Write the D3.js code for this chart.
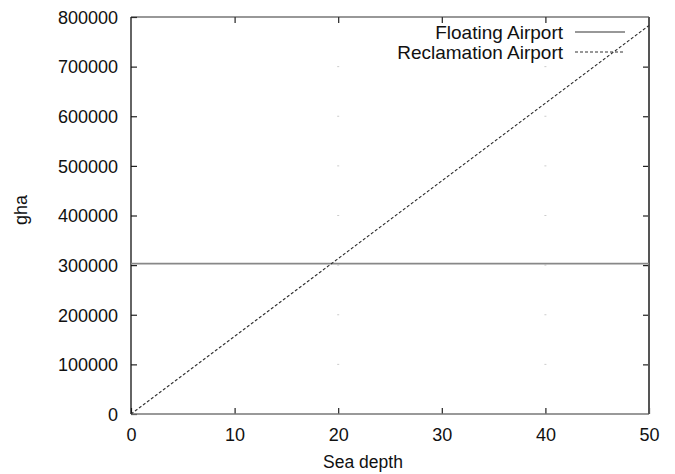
<!DOCTYPE html>
<html>
<head>
<meta charset="utf-8">
<script src="https://cdn.jsdelivr.net/npm/d3@7"></script>
<style>
  body { margin: 0; background: #fff; }
  svg { display: block; font-family: "Liberation Sans", Arial, sans-serif; }
</style>
</head>
<body>
<svg id="chart" width="675" height="474"></svg>
<script>
  // values
  let depths = [0, 10, 20, 30, 40, 50];
  let floating = [303000, 303000, 303000, 303000, 303000, 303000];
  let reclamation = [0, 156600, 313200, 469800, 626400, 783000];
  let xTicks = [0, 10, 20, 30, 40, 50];
  let yTicks = [0, 100000, 200000, 300000, 400000, 500000, 600000, 700000, 800000];
  let seriesNames = ['Floating Airport', 'Reclamation Airport'];

(function() {
  let svg = d3.select('#chart');
  let plotLeft = 131, plotRight = 649, plotTop = 17, plotBottom = 414;

  let x = d3.scaleLinear().domain([0, 50]).range([plotLeft, plotRight]);
  let y = d3.scaleLinear().domain([0, 800000]).range([plotBottom, plotTop]);

  //
  // faint grid remnants at x = 20 and 40
  //
  let dots = [];
  [20, 40].forEach((d) => {
    yTicks.slice(1, -1).forEach((v) => dots.push({ d, v }));
  });
  svg.append('g').selectAll('rect').data(dots).enter().append('rect')
    .attr('x', (p) => x(p.d) - 1)
    .attr('y', (p) => y(p.v) - 0.5)
    .attr('width', 2)
    .attr('height', 1)
    .attr('fill', '#ccc');

  //
  // axes (inward ticks, mirrored)
  //
  let tickLen = 6;
  let axisBottom = d3.axisBottom(x).tickValues(xTicks).tickFormat(d3.format('d'))
    .tickSizeInner(-tickLen).tickSizeOuter(0).tickPadding(14);
  let axisLeft = d3.axisLeft(y).tickValues(yTicks).tickFormat(d3.format('d'))
    .tickSizeInner(-tickLen).tickSizeOuter(0).tickPadding(13);
  let axisTop = d3.axisTop(x).tickValues(xTicks.slice(1, -1)).tickSizeInner(-tickLen).tickSizeOuter(0).tickFormat('');
  let axisRight = d3.axisRight(y).tickValues(yTicks.slice(1, -1)).tickSizeInner(-tickLen).tickSizeOuter(0).tickFormat('');

  let gx = svg.append('g').attr('transform', `translate(0,${plotBottom})`).call(axisBottom);
  let gy = svg.append('g').attr('transform', `translate(${plotLeft},0)`).call(axisLeft);
  svg.append('g').attr('transform', `translate(0,${plotTop})`).call(axisTop);
  svg.append('g').attr('transform', `translate(${plotRight},0)`).call(axisRight);

  svg.selectAll('.domain').remove();
  svg.selectAll('.tick line').attr('stroke', '#222').attr('stroke-width', 1.2);
  svg.selectAll('.tick text')
    .attr('fill', '#111')
    .attr('font-size', 18)
    .attr('font-family', '"Liberation Sans", Arial, sans-serif');
  gx.selectAll('.tick text').attr('dy', '0.71em');
  gy.selectAll('.tick text').attr('dy', '0.35em');

  // frame
  svg.append('line').attr('x1', plotLeft).attr('x2', plotLeft).attr('y1', plotTop).attr('y2', plotBottom)
    .attr('stroke', '#111').attr('stroke-width', 1.3);
  svg.append('line').attr('x1', plotLeft).attr('x2', plotRight).attr('y1', plotTop).attr('y2', plotTop)
    .attr('stroke', '#333').attr('stroke-width', 1.2);
  svg.append('line').attr('x1', plotLeft).attr('x2', plotRight).attr('y1', plotBottom).attr('y2', plotBottom)
    .attr('stroke', '#777').attr('stroke-width', 1.5);
  svg.append('line').attr('x1', plotRight).attr('x2', plotRight).attr('y1', plotTop).attr('y2', plotBottom)
    .attr('stroke', '#555').attr('stroke-width', 2);

  //
  // series
  //
  let line = d3.line().x((d) => x(d[0])).y((d) => y(d[1]));
  let floatPts = depths.map((d, i) => [d, floating[i]]);
  let reclPts = depths.map((d, i) => [d, reclamation[i]]);

  svg.append('path').datum(floatPts).attr('d', line)
    .attr('fill', 'none').attr('stroke', '#888').attr('stroke-width', 1.6);
  svg.append('path').datum(reclPts).attr('d', line)
    .attr('fill', 'none').attr('stroke', '#333').attr('stroke-width', 1.1)
    .attr('stroke-dasharray', '3,2');

  //
  // legend
  //
  let legend = svg.append('g');
  let styles = [
    { stroke: '#333', width: 1.1, dash: null },
    { stroke: '#333', width: 1.1, dash: '3,2' }
  ];
  seriesNames.forEach((name, i) => {
    let ly = 32 + i * 20;
    legend.append('text')
      .attr('x', 563).attr('y', ly)
      .attr('dy', '0.35em')
      .attr('text-anchor', 'end')
      .attr('font-size', 19)
      .attr('fill', '#111')
      .text(name);
    legend.append('line')
      .attr('x1', 575).attr('x2', 625).attr('y1', ly).attr('y2', ly)
      .attr('stroke', styles[i].stroke)
      .attr('stroke-width', styles[i].width)
      .attr('stroke-dasharray', styles[i].dash);
  });

  //
  // axis titles
  //
  svg.append('text')
    .attr('x', 363).attr('y', 468)
    .attr('text-anchor', 'middle')
    .attr('font-size', 17.5)
    .attr('fill', '#111')
    .text('Sea depth');

  svg.append('text')
    .attr('transform', 'translate(27,210) rotate(-90)')
    .attr('text-anchor', 'middle')
    .attr('font-size', 18)
    .attr('fill', '#111')
    .text('gha');
})();
</script>
</body>
</html>
